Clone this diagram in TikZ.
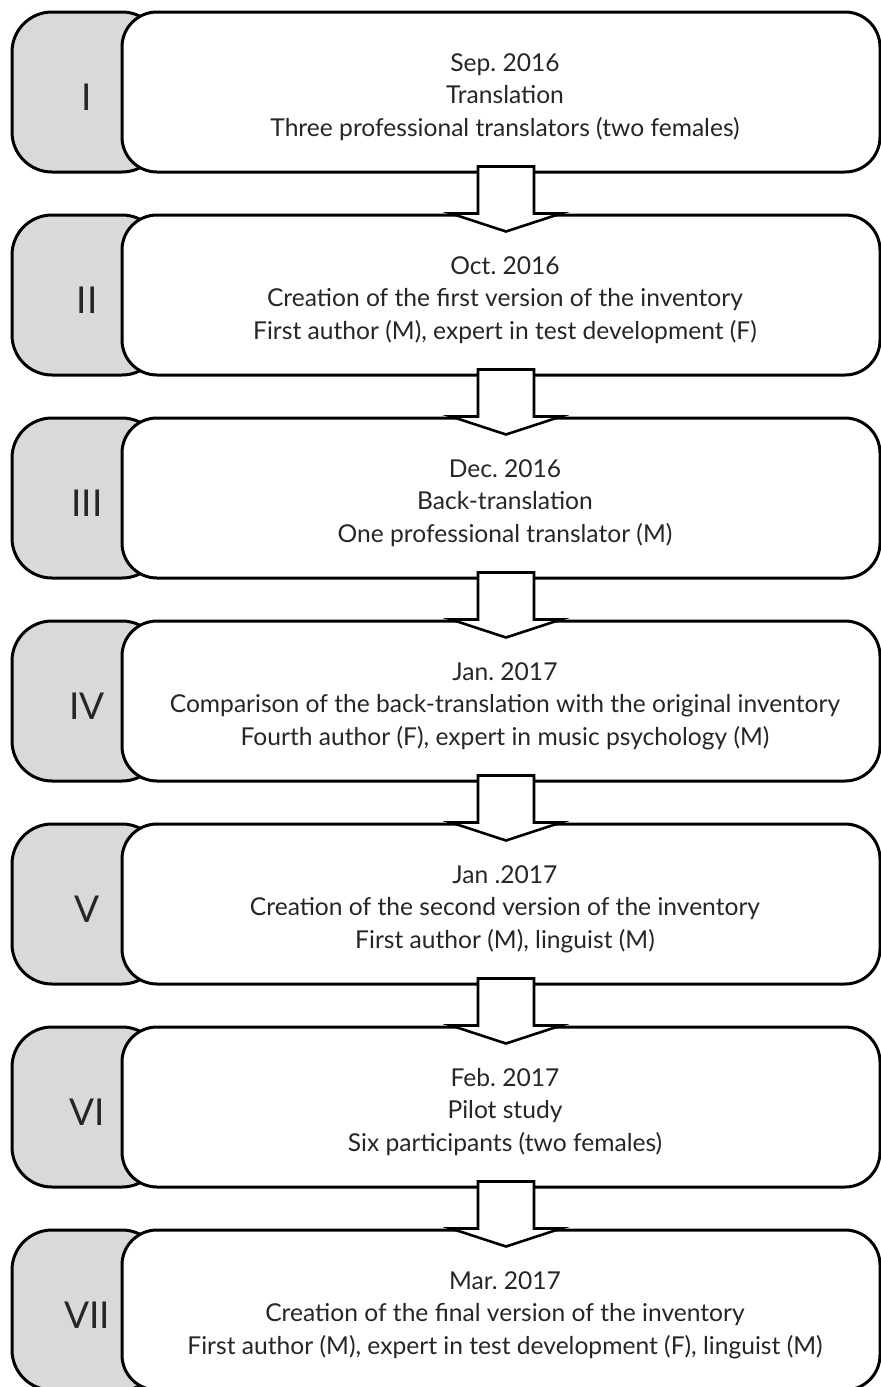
\documentclass[tikz,border=0pt]{standalone}
\usepackage{fontspec}
\setmainfont{Lato}
\frenchspacing
\usetikzlibrary{calc,positioning}

\definecolor{tabgray}{RGB}{217,217,217}
\definecolor{inkgray}{RGB}{38,38,38}

\begin{document}
\begin{tikzpicture}[x=0.5pt, y=-0.5pt, line width=1.5pt,
    tab/.style={draw, fill=tabgray, rounded corners=20pt, minimum width=75pt,
                minimum height=80pt},
    stage/.style={draw, fill=white, rounded corners=17.5pt, minimum width=379pt,
                  minimum height=80pt},
    numtext/.style={text=inkgray, font=\fontsize{18.5}{20}\selectfont},
    stagetext/.style={align=center, text=inkgray, font=\fontsize{12.3}{16.2}\selectfont},
    blockarrow/.style={draw, fill=white, line width=1.3pt, line join=miter}]
   \useasboundingbox (0, 0) rectangle (881, 1387);
   \clip (0, 0) rectangle (881, 1387);

   \node[tab] (t1) at (87, 92) {};
   \node[stage] (b1) at (501, 92) {};
   \node[numtext] (n1) at ($(t1)+(0,5)$) {I};
   \node[stagetext] (s1) at ($(b1)+(4,5)$) {Sep. 2016\\Translation\\Three professional translators (two females)};

   \node[tab] (t2) at (87, 295) {};
   \node[stage] (b2) at (501, 295) {};
   \node[numtext] (n2) at ($(t2)+(0,5)$) {II};
   \node[stagetext] (s2) at ($(b2)+(4,5)$) {Oct. 2016\\Creation of the first version of the inventory\\First author (M), expert in test development (F)};

   \node[tab] (t3) at (87, 498) {};
   \node[stage] (b3) at (501, 498) {};
   \node[numtext] (n3) at ($(t3)+(0,5)$) {III};
   \node[stagetext] (s3) at ($(b3)+(4,5)$) {Dec. 2016\\Back-translation\\One professional translator (M)};

   \node[tab] (t4) at (87, 701) {};
   \node[stage] (b4) at (501, 701) {};
   \node[numtext] (n4) at ($(t4)+(0,5)$) {IV};
   \node[stagetext] (s4) at ($(b4)+(4,5)$) {Jan. 2017\\Comparison of the back-translation with the original inventory\\Fourth author (F), expert in music psychology (M)};

   \node[tab] (t5) at (87, 904) {};
   \node[stage] (b5) at (501, 904) {};
   \node[numtext] (n5) at ($(t5)+(0,5)$) {V};
   \node[stagetext] (s5) at ($(b5)+(4,5)$) {Jan .2017\\Creation of the second version of the inventory\\First author (M), linguist (M)};

   \node[tab] (t6) at (87, 1107) {};
   \node[stage] (b6) at (501, 1107) {};
   \node[numtext] (n6) at ($(t6)+(0,5)$) {VI};
   \node[stagetext] (s6) at ($(b6)+(4,5)$) {Feb. 2017\\Pilot study\\Six participants (two females)};

   \node[tab] (t7) at (87, 1310) {};
   \node[stage] (b7) at (501, 1310) {};
   \node[numtext] (n7) at ($(t7)+(0,5)$) {VII};
   \node[stagetext] (s7) at ($(b7)+(4,5)$) {Mar. 2017\\Creation of the final version of the inventory\\First author (M), expert in test development (F), linguist (M)};

   % block arrows between the stages
   \foreach \a/\b in {b1/b2, b2/b3, b3/b4, b4/b5, b5/b6, b6/b7}
      \draw[blockarrow] ($(\a.south)+(-23,-7)$) -- ($(\b.north)+(-23,0)$)
                     -- ($(\b.north)+(-50,0)$) -- ($(\b.north)+(5,18)$)
                     -- ($(\b.north)+(60,0)$) -- ($(\b.north)+(33,0)$)
                     -- ($(\a.south)+(33,-7)$) -- cycle;

\end{tikzpicture}
\end{document}
